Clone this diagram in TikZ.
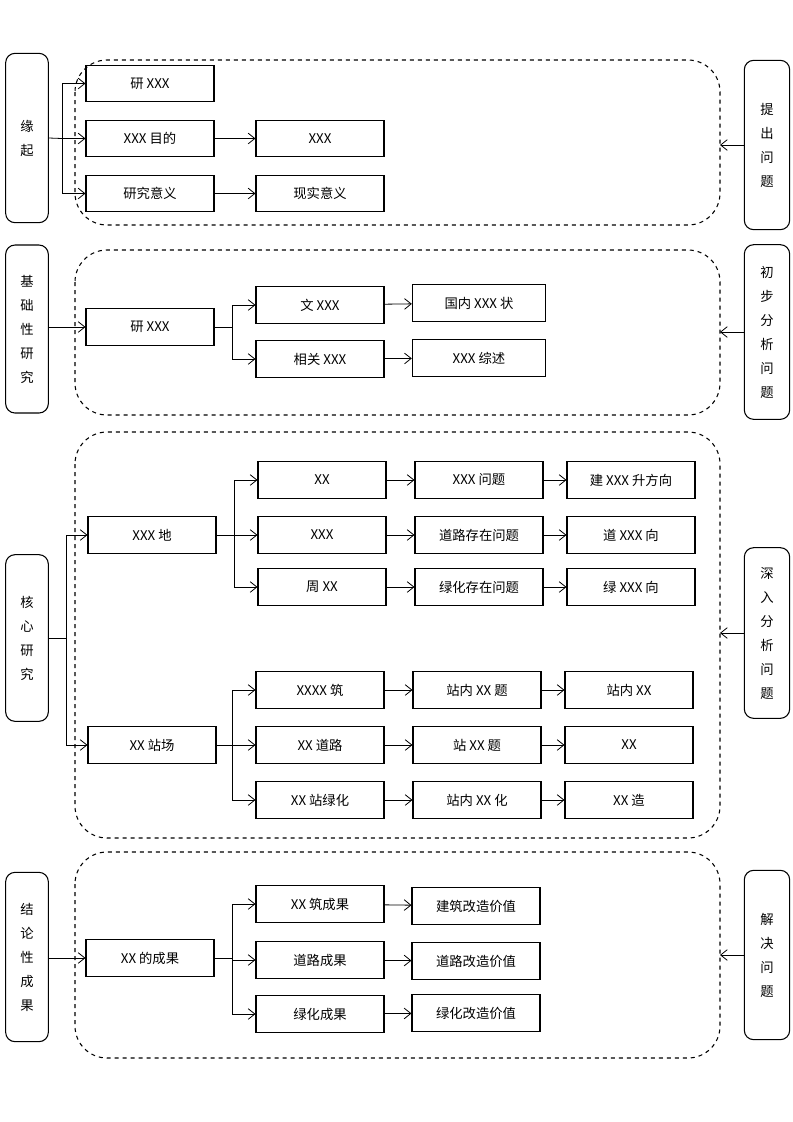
\documentclass[tikz,border=0pt]{standalone}
\usepackage{fontspec}
\setmainfont{Liberation Sans}
\newfontfamily\cjk{Noto Sans CJK SC}
\usetikzlibrary{arrows.meta, positioning}
\tikzset{
  box/.style={draw, thick, rectangle, minimum width=96pt, minimum height=27.5pt, inner sep=0pt, font=\cjk\fontsize{10}{12}\selectfont},
  side/.style={draw, thick, rounded corners=7pt, minimum width=32pt, inner sep=0pt, align=center, font=\cjk\fontsize{10}{18}\selectfont},
  zone/.style={draw, thick, dashed, rounded corners=24pt},
  link/.style={-{Straight Barb[length=5pt,width=8pt]}, semithick},
}
\begin{document}
\begin{tikzpicture}[x=0.75pt, y=-0.75pt]
            \useasboundingbox (0,0) rectangle (793,1122);
            % dashed zones
            \draw[zone] (75,60) rectangle (720,225);
            \draw[zone] (75,250) rectangle (720,415);
            \draw[zone] (75,432) rectangle (720,838);
            \draw[zone] (75,852) rectangle (720,1058);
            % left column
            \node[side, minimum height=127pt] (l1) at (27,138) {缘\\起};
            \node[side, minimum height=126pt] (l2) at (27,329) {基\\础\\性\\研\\究};
            \node[side, minimum height=125pt] (l3) at (27,638) {核\\心\\研\\究};
            \node[side, minimum height=127pt] (l4) at (27,957) {结\\论\\性\\成\\果};
            % right column
            \node[side, minimum height=127pt, minimum width=34pt] (r1) at (767,145) {提\\出\\问\\题};
            \node[side, minimum height=131pt, minimum width=34pt] (r2) at (767,332) {初\\步\\分\\析\\问\\题};
            \node[side, minimum height=128pt, minimum width=34pt] (r3) at (767,633) {深\\入\\分\\析\\问\\题};
            \node[side, minimum height=127pt, minimum width=34pt] (r4) at (767,955) {解\\决\\问\\题};
            \draw[link] (r1.west) -- (720,145);
            \draw[link] (r2.west) -- (720,332);
            \draw[link] (r3.west) -- (720,633);
            \draw[link] (r4.west) -- (720,955);
            % section 1
            \node[box] (a1) at (150,83.5) {研 XXX};
            \node[box] (a2) at (150,138.5) {XXX 目的};
            \node[box] (a3) at (150,193.5) {研究意义};
            \node[box] (b2) at (320,138.5) {XXX};
            \node[box] (b3) at (320,193.5) {现实意义};
            \draw[semithick] (l1.east) -- (62,138.5);
            \draw[link] (62,83.5) -- (a1.west);
            \draw[link] (62,138.5) -- (a2.west);
            \draw[link] (62,193.5) -- (a3.west);
            \draw[semithick] (62,83.5) -- (62,193.5);
            \draw[link] (a2) -- (b2);
            \draw[link] (a3) -- (b3);
            % section 2
            \node[box] (c1) at (150,327) {研 XXX};
            \node[box] (d1) at (320,305) {文 XXX};
            \node[box] (d2) at (320,359) {相关 XXX};
            \node[box, minimum width=100pt] (e1) at (479,303) {国内 XXX 状};
            \node[box, minimum width=100pt] (e2) at (479,358) {XXX 综述};
            \draw[link] (l2.east |- c1) -- (c1.west);
            \draw[semithick] (c1.east) -- (232,327) (232,305) -- (232,359);
            \draw[link] (232,305) -- (d1.west);
            \draw[link] (232,359) -- (d2.west);
            \draw[link] (d1) -- (e1);
            \draw[link] (d2) -- (e2);
            % section 3, upper
            \node[box] (f1) at (152,535) {XXX 地};
            \node[box] (g1) at (322,480) {XX};
            \node[box] (g2) at (322,535) {XXX};
            \node[box] (g3) at (322,587) {周 XX};
            \node[box] (h1) at (479,480) {XXX 问题};
            \node[box] (h2) at (479,535) {道路存在问题};
            \node[box] (h3) at (479,587) {绿化存在问题};
            \node[box] (i1) at (631,480) {建 XXX 升方向};
            \node[box] (i2) at (631,535) {道 XXX 向};
            \node[box] (i3) at (631,587) {绿 XXX 向};
            % section 3, lower
            \node[box] (f2) at (152,745) {XX 站场};
            \node[box] (j1) at (320,690) {XXXX 筑};
            \node[box] (j2) at (320,745) {XX 道路};
            \node[box] (j3) at (320,800) {XX 站绿化};
            \node[box] (k1) at (477,690) {站内 XX 题};
            \node[box] (k2) at (477,745) {站 XX 题};
            \node[box] (k3) at (477,800) {站内 XX 化};
            \node[box] (m1) at (629,690) {站内 XX};
            \node[box] (m2) at (629,745) {XX};
            \node[box] (m3) at (629,800) {XX 造};
            \draw[semithick] (l3.east) -- (66,638) (66,535) -- (66,745);
            \draw[link] (66,535) -- (f1.west);
            \draw[link] (66,745) -- (f2.west);
            \draw[semithick] (f1.east) -- (234,535) (234,480) -- (234,587);
            \draw[link] (234,480) -- (g1.west);
            \draw[link] (234,535) -- (g2.west);
            \draw[link] (234,587) -- (g3.west);
            \draw[semithick] (f2.east) -- (232,745) (232,690) -- (232,800);
            \draw[link] (232,690) -- (j1.west);
            \draw[link] (232,745) -- (j2.west);
            \draw[link] (232,800) -- (j3.west);
            \foreach \u/\v in {g1/h1, g2/h2, g3/h3, h1/i1, h2/i2, h3/i3, j1/k1, j2/k2, j3/k3, k1/m1, k2/m2, k3/m3}
              \draw[link] (\u) -- (\v);
            % section 4
            \node[box] (n1) at (150,958) {XX 的成果};
            \node[box] (p1) at (320,904) {XX 筑成果};
            \node[box] (p2) at (320,960) {道路成果};
            \node[box] (p3) at (320,1014) {绿化成果};
            \node[box] (q1) at (476,906) {建筑改造价值};
            \node[box] (q2) at (476,961) {道路改造价值};
            \node[box] (q3) at (476,1013) {绿化改造价值};
            \draw[link] (l4.east |- n1) -- (n1.west);
            \draw[semithick] (n1.east) -- (232,958) (232,904) -- (232,1014);
            \draw[link] (232,904) -- (p1.west);
            \draw[link] (232,960) -- (p2.west);
            \draw[link] (232,1014) -- (p3.west);
            \foreach \u/\v in {p1/q1, p2/q2, p3/q3}
              \draw[link] (\u) -- (\v);
\end{tikzpicture}
\end{document}
